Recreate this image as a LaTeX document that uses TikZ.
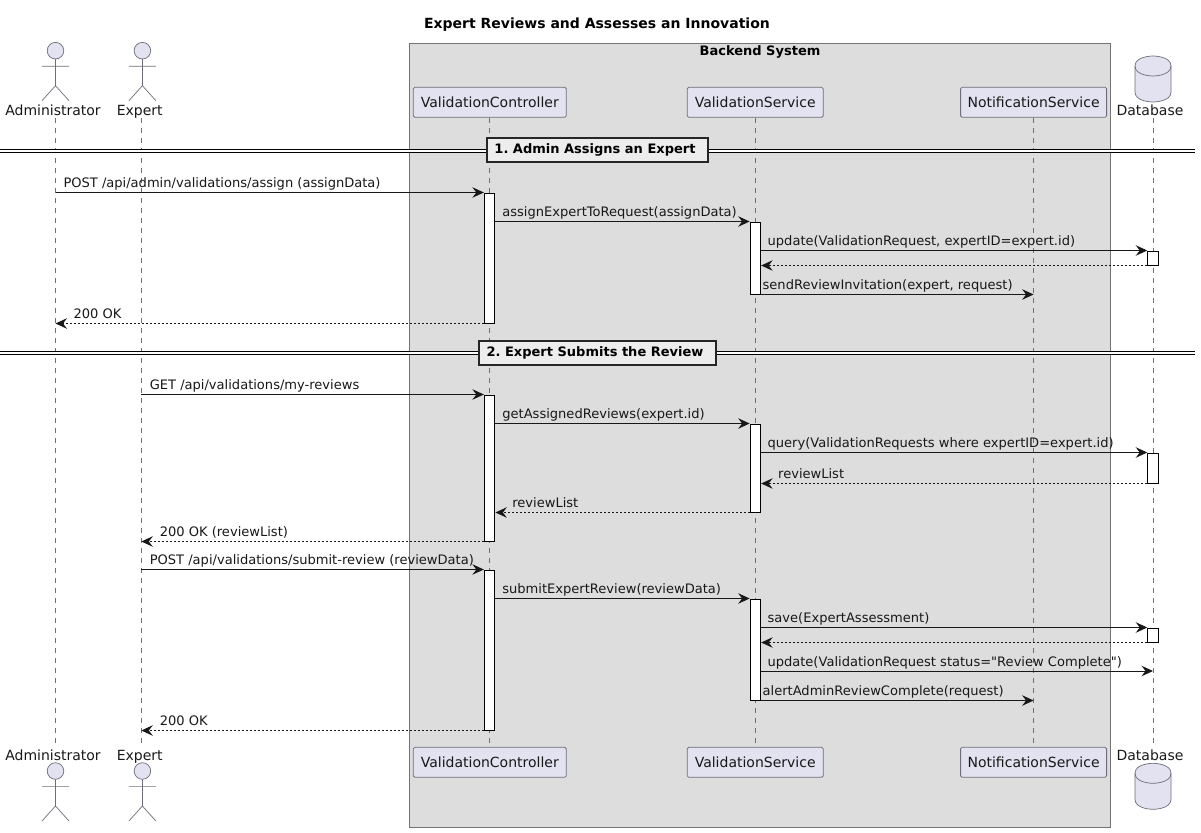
\documentclass[tikz,border=0pt]{standalone}
\usepackage{fontspec}
\setmainfont{DejaVu Sans}
\newfontfamily\plainquote{DejaVu Sans}
\usetikzlibrary{arrows.meta}
\definecolor{partfill}{HTML}{E2E2F0}
\definecolor{partline}{HTML}{6E6E78}
\definecolor{groupfill}{HTML}{DDDDDD}
\definecolor{msgline}{HTML}{181818}
\tikzset{
	txt/.style = {font = \fontsize{14}{16}\selectfont, text = msgline, inner sep = 0pt},
	part/.style = {txt, draw = partline, fill = partfill, rounded corners = 1.5pt, minimum height = 30pt, line width = 0.8pt},
	actorname/.style = {txt, anchor = base},
	life/.style = {draw = partline, line width = 0.7pt, dash pattern = on 5pt off 5pt},
	bar/.style = {draw = black, fill = white, minimum width = 10.5pt, inner sep = 0pt, line width = 1pt},
	msg/.style = {draw = msgline, line width = 1pt, -{Stealth[length = 11.5pt, width = 10.5pt, inset = 4pt]}},
	ret/.style = {msg, dash pattern = on 2pt off 2pt},
	lbl/.style = {txt, font = \fontsize{13.05}{16}\selectfont, anchor = base west, yshift = 4.7pt},
	section/.style = {draw = black!85, fill = black!7, line width = 2pt, minimum height = 24pt, inner sep = 0pt, font = \fontsize{13}{16}\selectfont\bfseries\frenchspacing},
	sepline/.style = {draw = black, double = white, double distance = 2pt, line width = 1pt},
	actorpic/.pic = {
		\draw[draw = partline, fill = partfill, line width = 0.7pt] (0,0) circle (8.3);
		\draw[draw = partline, line width = 0.7pt] (0,8.3) -- (0,35) (-13.5,15.6) -- (13.5,15.6) (-13.5,50) -- (0,35) -- (13.5,50);
	},
	dbpic/.pic = {
		\draw[draw = partline, fill = partfill, line width = 0.7pt] (-18,10) .. controls (-18,0) and (0,0) .. (0,0) .. controls (0,0) and (18,0) .. (18,10) -- (18,36) .. controls (18,46) and (0,46) .. (0,46) .. controls (0,46) and (-18,46) .. (-18,36) -- cycle;
		\draw[draw = partline, line width = 0.7pt] (-18,10) .. controls (-18,20) and (0,20) .. (0,20) .. controls (0,20) and (18,20) .. (18,10);
	}
}
\begin{document}
\begin{tikzpicture}[x = 1pt, y = -1pt]
	\useasboundingbox (0,0) rectangle (1201,832);
	\node[font = \fontsize{14}{16}\selectfont\bfseries, inner sep = 0pt] (title) at (597,25) {Expert Reviews and Assesses an Innovation};

	% backend group
	\node[draw = black!55, fill = groupfill, line width = 0.8pt, minimum width = 701pt, minimum height = 784pt, inner sep = 0pt] (backend) at (760,435.3) {};
	\node[font = \fontsize{13}{16}\selectfont\bfseries, inner sep = 0pt] (backendname) at (760,51.5) {Backend System};

	% lifeline ends
	\coordinate (adminT) at (55.5,118);
	\coordinate (adminB) at (55.5,744);
	\coordinate (expertT) at (141.3,118);
	\coordinate (expertB) at (141.3,744);
	\coordinate (dbT) at (1153,118);
	\coordinate (dbB) at (1153,744);

	% participants, top and bottom
	\node[part, minimum width = 153pt] (ctrlT) at (489.8,102.3) {ValidationController};
	\node[part, minimum width = 136pt] (svcT) at (755.2,102.3) {ValidationService};
	\node[part, minimum width = 146pt] (notifT) at (1033.6,102.3) {NotificationService};
	\node[part, minimum width = 153pt] (ctrlB) at (489.8,762.3) {ValidationController};
	\node[part, minimum width = 136pt] (svcB) at (755.2,762.3) {ValidationService};
	\node[part, minimum width = 146pt] (notifB) at (1033.6,762.3) {NotificationService};

	\draw[life] (adminT) -- (adminB);
	\draw[life] (expertT) -- (expertB);
	\draw[life] (ctrlT) -- (ctrlB);
	\draw[life] (svcT) -- (svcB);
	\draw[life] (notifT) -- (notifB);
	\draw[life] (dbT) -- (dbB);

	% actors and database
	\pic at (55.5,50.7) {actorpic};
	\pic at (142.4,50.7) {actorpic};
	\pic at (55.5,771) {actorpic};
	\pic at (142.4,771) {actorpic};
	\pic at (1153,56) {dbpic};
	\pic at (1153,763.3) {dbpic};
	\node[actorname] (adminnameT) at (53,115.5) {Administrator};
	\node[actorname] (expertnameT) at (139.7,115.5) {Expert};
	\node[actorname] (adminnameB) at (53,760) {Administrator};
	\node[actorname] (expertnameB) at (139.7,760) {Expert};
	\node[actorname] (dbnameT) at (1150,115.5) {Database};
	\node[actorname] (dbnameB) at (1150,760) {Database};

	% section dividers
	\coordinate (secaL) at (0,151.2);
	\coordinate (secaR) at (1195,151.2);
	\coordinate (secbL) at (0,353);
	\coordinate (secbR) at (1195,353);
	\node[section, minimum width = 221pt] (seca) at (597.5,150.4) {1. Admin Assigns an Expert\kern5pt};
	\node[section, minimum width = 237pt] (secb) at (597.5,352.7) {2. Expert Submits the Review\kern5pt};
	\draw[sepline] (secaL) -- (seca.west |- secaL);
	\draw[sepline] (seca.east |- secaL) -- (secaR);
	\draw[sepline] (secbL) -- (secb.west |- secbL);
	\draw[sepline] (secb.east |- secbL) -- (secbR);

	% activation bars
	\node[bar, minimum height = 130pt] (ctrla) at (489.6,258) {};
	\node[bar, minimum height = 72pt] (svca) at (755.4,258) {};
	\node[bar, minimum height = 14pt] (dba) at (1153,258) {};
	\node[bar, minimum height = 146pt] (ctrlb) at (489.6,468) {};
	\node[bar, minimum height = 88pt] (svcb) at (755.4,468) {};
	\node[bar, minimum height = 30pt] (dbb) at (1153,468) {};
	\node[bar, minimum height = 160pt] (ctrlc) at (489.6,650) {};
	\node[bar, minimum height = 101pt] (svcc) at (755.4,649.5) {};
	\node[bar, minimum height = 14pt] (dbc) at (1153,635) {};

	% first section
	\draw[msg] (adminT |- ctrla.north) -- (ctrla.north west) node[lbl, pos = 0, xshift = 7.5pt] {POST /api/admin/validations/assign (assignData)};
	\draw[msg] (ctrla.east |- svca.north) -- (svca.north west) node[lbl, pos = 0, xshift = 6.5pt] {assignExpertToRequest(assignData)};
	\draw[msg] (svca.east |- dba.north) -- (dba.north west) node[lbl, pos = 0, xshift = 6pt] {update(ValidationRequest, expertID=expert.id)};
	\draw[ret] (dba.south west) -- (svca.east |- dba.south);
	\draw[msg] (svca.south east) -- (notifT |- svca.south) node[lbl, pos = 0, xshift = 1pt] {sendReviewInvitation(expert, request)};
	\draw[ret] (ctrla.south west) -- (adminT |- ctrla.south) node[lbl, pos = 1, xshift = 17.5pt] {200 OK};

	% second section
	\draw[msg] (expertT |- ctrlb.north) -- (ctrlb.north west) node[lbl, pos = 0, xshift = 8pt] {GET /api/validations/my-reviews};
	\draw[msg] (ctrlb.east |- svcb.north) -- (svcb.north west) node[lbl, pos = 0, xshift = 6.5pt] {getAssignedReviews(expert.id)};
	\draw[msg] (svcb.east |- dbb.north) -- (dbb.north west) node[lbl, pos = 0, xshift = 6pt] {query(ValidationRequests where expertID=expert.id)};
	\draw[ret] (dbb.south west) -- (svcb.east |- dbb.south) node[lbl, pos = 1, xshift = 16.5pt] {reviewList};
	\draw[ret] (svcb.south west) -- (ctrlb.east |- svcb.south) node[lbl, pos = 1, xshift = 16.5pt] {reviewList};
	\draw[ret] (ctrlb.south west) -- (expertT |- ctrlb.south) node[lbl, pos = 1, xshift = 18pt] {200 OK (reviewList)};
	\draw[msg] (expertT |- ctrlc.north) -- (ctrlc.north west) node[lbl, pos = 0, xshift = 8pt] {POST /api/validations/submit-review (reviewData)};
	\draw[msg] (ctrlc.east |- svcc.north) -- (svcc.north west) node[lbl, pos = 0, xshift = 6.5pt] {submitExpertReview(reviewData)};
	\draw[msg] (svcc.east |- dbc.north) -- (dbc.north west) node[lbl, pos = 0, xshift = 6pt] {save(ExpertAssessment)};
	\draw[ret] (dbc.south west) -- (svcc.east |- dbc.south);
	\coordinate (statusY) at (761,671);
	\draw[msg] (statusY) -- (dbT |- statusY) node[lbl, pos = 0, xshift = 6pt] {update(ValidationRequest status={\plainquote\char34}Review Complete{\plainquote\char34})};
	\draw[msg] (svcc.south east) -- (notifT |- svcc.south) node[lbl, pos = 0, xshift = 1pt] {alertAdminReviewComplete(request)};
	\draw[ret] (ctrlc.south west) -- (expertT |- ctrlc.south) node[lbl, pos = 1, xshift = 18pt] {200 OK};
\end{tikzpicture}
\end{document}
